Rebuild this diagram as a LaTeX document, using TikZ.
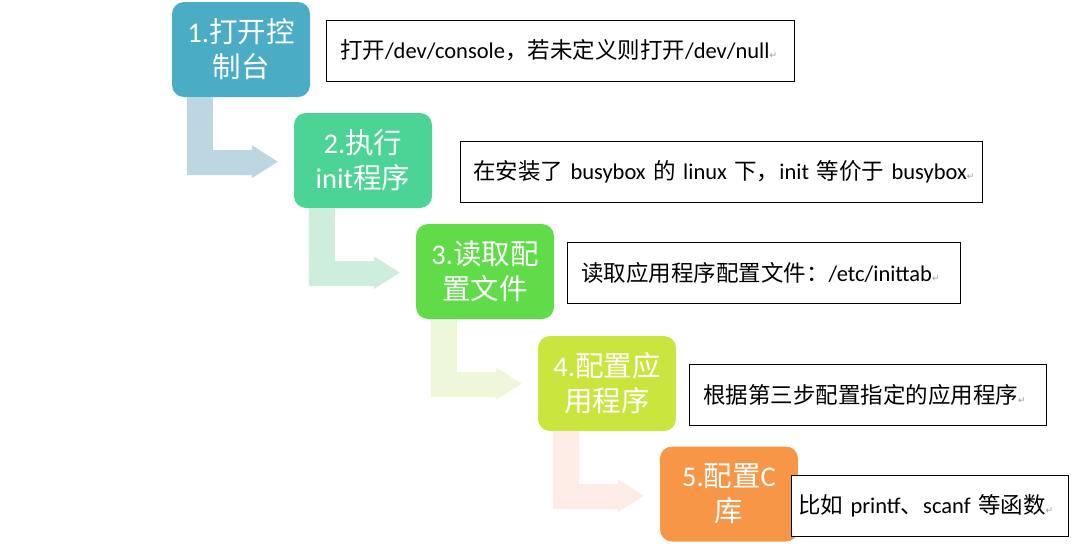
\documentclass[tikz,border=0pt]{standalone}
\usepackage{fontspec}
\setmainfont{Noto Sans CJK SC}
\newfontfamily\latinfont{Carlito}
\newfontfamily\symbfont{DejaVu Sans}
\usetikzlibrary{positioning,calc}
\definecolor{cone}{RGB}{75,172,198}
\definecolor{ctwo}{RGB}{76,212,150}
\definecolor{cthree}{RGB}{96,220,72}
\definecolor{cfour}{RGB}{202,230,62}
\definecolor{cfive}{RGB}{247,150,70}
\definecolor{aone}{RGB}{188,215,225}
\definecolor{atwo}{RGB}{204,238,218}
\definecolor{athree}{RGB}{238,247,218}
\definecolor{afour}{RGB}{253,235,230}
\newcommand{\entxt}[1]{{\latinfont #1}}
\newcommand{\parmark}{{\symbfont\fontsize{9}{9}\selectfont\textcolor{gray!80}{↵}}}
\tikzset{
  stepbox/.style={rectangle,rounded corners=12pt,draw=none,text=white,
    minimum width=138pt,minimum height=95pt,align=center,inner sep=2pt,
    font=\fontsize{28.5}{35}\selectfont},
  notebox/.style={rectangle,draw=black,line width=0.9pt,fill=white,
    minimum height=61pt,align=left,inner xsep=14pt,
    font=\fontsize{22.5}{26}\selectfont}
}

\begin{document}
\begin{tikzpicture}[x=1pt,y=-1pt]
  \useasboundingbox (0,0) rectangle (1071,549);
  % steps, each one a column to the right and a row down
  \node[stepbox,fill=cone]   (s1) at (241,49.5)  {\entxt{1.}打开控\\制台};
  \node[stepbox,fill=ctwo]   (s2) at (363,160.5) {\entxt{2.}执行\\\entxt{init}程序};
  \node[stepbox,fill=cthree] (s3) at (485,271.5) {\entxt{3.}读取配\\置文件};
  \node[stepbox,fill=cfour]  (s4) at (607,383.5) {\entxt{4.}配置应\\用程序};
  \node[stepbox,fill=cfive]  (s5) at (729,494)   {\entxt{5.}配置\entxt{C}\\库};
  % notes beside the steps
  \node[notebox,text width=440pt] (n1) at (560,50.5)
    {\mbox{打开\entxt{/dev/console}，若未定义则打开\entxt{/dev/null}\parmark}};
  \node[notebox,text width=496pt,inner xsep=13pt] (n2) at (721,171.5)
    {\mbox{在安装了\entxt{ busybox }的\entxt{ linux }下，\entxt{init }等价于\entxt{ busybox}\parmark}};
  \node[notebox,text width=365pt] (n3) at (763.5,272.5)
    {\mbox{读取应用程序配置文件：\entxt{/etc/inittab}\parmark}};
  \node[notebox,text width=329pt] (n4) at (867.5,394.5)
    {\mbox{根据第三步配置指定的应用程序\parmark}};
  \node[notebox,text width=263pt,inner xsep=7pt] (n5) at (929.5,505.5)
    {\mbox{比如\entxt{ printf}、\entxt{scanf }等函数\parmark}};
  % bent arrows from one step to the next
  \foreach \i/\c in {1/aone,2/atwo,3/athree,4/afour}{
    \begin{scope}[shift={(s\i.south west)}]
      \fill[\c] (15,0) -- (41,0) -- (41,53) -- (80,53) -- (80,48)
        -- (106,64.5) -- (80,81) -- (80,78) -- (15,78) -- cycle;
    \end{scope}
  }
\end{tikzpicture}
\end{document}
